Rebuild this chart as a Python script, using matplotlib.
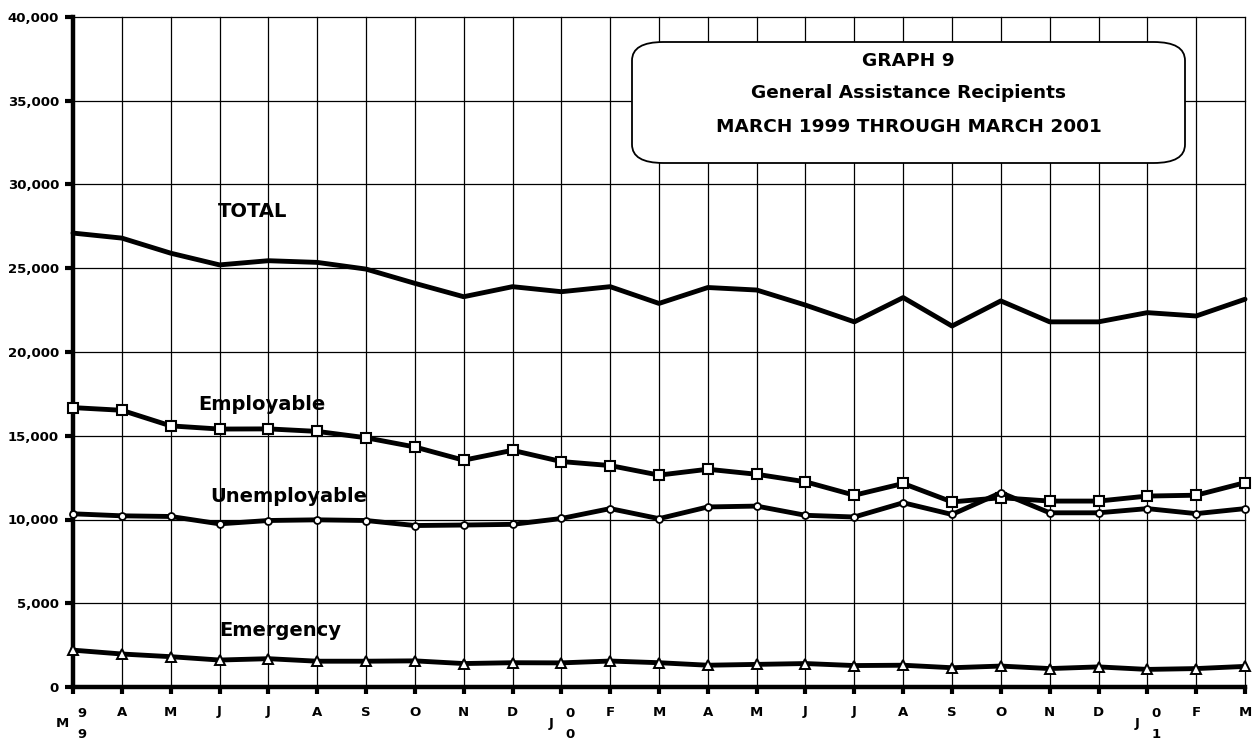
import matplotlib
matplotlib.use('Agg')
import matplotlib.pyplot as plt
from matplotlib.patches import FancyBboxPatch

# ---------------- data ----------------
months = ['M', 'A', 'M', 'J', 'J', 'A', 'S', 'O', 'N', 'D', 'J', 'F',
          'M', 'A', 'M', 'J', 'J', 'A', 'S', 'O', 'N', 'D', 'J', 'F', 'M']
year_digits = {0: ('9', '9'), 10: ('0', '0'), 22: ('0', '1')}

total = [27100, 26800, 25900, 25200, 25450, 25350, 24950, 24100, 23300, 23900,
         23600, 23900, 22900, 23850, 23700, 22800, 21800, 23250, 21550, 23050,
         21800, 21800, 22350, 22150, 23150]
employable = [16680, 16520, 15590, 15400, 15410, 15260, 14880, 14330, 13540, 14130,
              13460, 13220, 12650, 13000, 12700, 12250, 11450, 12150, 11050, 11300,
              11100, 11100, 11400, 11450, 12200]
unemployable = [10340, 10220, 10180, 9740, 9940, 9980, 9940, 9640, 9670, 9710,
                10060, 10650, 10050, 10750, 10800, 10250, 10150, 11000, 10300, 11600,
                10400, 10400, 10650, 10350, 10650]
emergency = [2200, 1970, 1810, 1610, 1690, 1540, 1540, 1560, 1400, 1450,
             1440, 1550, 1450, 1300, 1350, 1400, 1280, 1300, 1150, 1250,
             1100, 1200, 1050, 1100, 1230]

yticks = [0, 5000, 10000, 15000, 20000, 25000, 30000, 35000, 40000]
ytick_labels = ['0', '5,000', '10,000', '15,000', '20,000', '25,000',
                '30,000', '35,000', '40,000']

title_lines = ['GRAPH 9', 'General Assistance Recipients',
               'MARCH 1999 THROUGH MARCH 2001']

# ---------------- figure ----------------
fig = plt.figure(figsize=(12.55, 7.40), dpi=100)
ax = fig.add_axes([73 / 1255, 1 - 687 / 740, (1245 - 73) / 1255, (687 - 17) / 740])

x = list(range(len(months)))
ax.set_xlim(0, len(months) - 1)
ax.set_ylim(0, 40000)

# grid
for xi in x:
    ax.axvline(xi, color='black', lw=0.9, zorder=1, clip_on=False)
for yv in yticks[1:]:
    ax.axhline(yv, color='black', lw=0.9, zorder=1, clip_on=False)

# spines
for s in ['top', 'right']:
    ax.spines[s].set_visible(False)
ax.spines['left'].set_linewidth(3.2)
ax.spines['bottom'].set_linewidth(3.2)

# series
lw = 3.5
ax.plot(x, total, color='black', lw=lw, solid_joinstyle='round',
        solid_capstyle='round', zorder=3, clip_on=False)
ax.plot(x, employable, color='black', lw=lw, marker='s', ms=7.5, mfc='white',
        mec='black', mew=1.5, solid_joinstyle='round', zorder=4, clip_on=False)
ax.plot(x, unemployable, color='black', lw=lw, marker='o', ms=5, mfc='white',
        mec='black', mew=1.3, solid_joinstyle='round', zorder=4, clip_on=False)
ax.plot(x, emergency, color='black', lw=lw, marker='^', ms=7, mfc='white',
        mec='black', mew=1.4, solid_joinstyle='round', zorder=4, clip_on=False)

# y ticks
ax.set_yticks(yticks)
ax.set_yticklabels(ytick_labels, fontfamily='DejaVu Sans', fontweight='bold',
                   fontsize=9.5)
ax.tick_params(axis='y', direction='out', length=6, width=3, pad=4)

# x ticks
ax.set_xticks(x)
ax.set_xticklabels([''] * len(x))
ax.tick_params(axis='x', direction='out', length=5, width=3)

lbl_kw = dict(xycoords=('data', 'axes fraction'), textcoords='offset points',
              ha='center', va='center', fontsize=9.5, fontweight='bold',
              fontfamily='DejaVu Sans', annotation_clip=False)
for i, m in enumerate(months):
    if i in year_digits:
        d1, d2 = year_digits[i]
        ax.annotate(m, xy=(i, 0), xytext=(-7.5, -26), **lbl_kw)
        ax.annotate(d1, xy=(i, 0), xytext=(6.5, -19), **lbl_kw)
        ax.annotate(d2, xy=(i, 0), xytext=(6.5, -34), **lbl_kw)
    else:
        ax.annotate(m, xy=(i, 0), xytext=(0, -18), **lbl_kw)

# series labels
lab_kw = dict(ha='center', va='center', fontsize=14, fontweight='bold',
              fontfamily='DejaVu Sans', zorder=6)
ax.text(3.67, 28400, 'TOTAL', **lab_kw)
ax.text(3.87, 16850, 'Employable', **lab_kw)
ax.text(4.42, 11400, 'Unemployable', **lab_kw)
ax.text(4.24, 3400, 'Emergency', **lab_kw)

# title box (figure pixel coords)
box = FancyBboxPatch((632 / 1255, 1 - 163 / 740), (1185 - 632) / 1255, (163 - 42) / 740,
                     boxstyle='round,pad=0,rounding_size=0.025',
                     transform=fig.transFigure, facecolor='white',
                     edgecolor='black', lw=1.3, zorder=10)
fig.patches.append(box)
cx = (632 + 1185) / 2 / 1255
for txt, ypx in zip(title_lines, [61, 93, 127]):
    fig.text(cx, 1 - ypx / 740, txt, ha='center', va='center', fontsize=13.3,
             fontweight='heavy', fontfamily='DejaVu Sans', zorder=11)

fig.savefig('out.png', dpi=100, facecolor='white')
